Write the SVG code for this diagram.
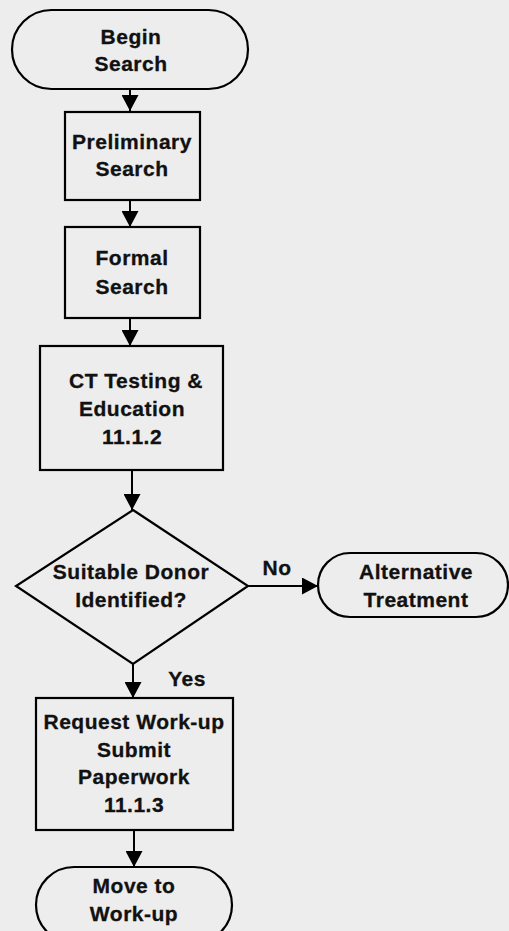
<svg xmlns="http://www.w3.org/2000/svg" width="509" height="931" viewBox="0 0 509 931">
  <style>
    .shape { fill: #ededed; stroke: #000; stroke-width: 2.2; }
    .lbl { font-family: "Liberation Sans", Arial, sans-serif; font-weight: bold; font-size: 21px; letter-spacing: 0.5px; fill: #111; stroke: #111; stroke-width: 0.3; text-anchor: middle; }
    .edge { stroke: #000; stroke-width: 2; fill: none; }
  </style>
  <defs>
    <marker id="arrow" viewBox="0 0 16 17" refX="16" refY="8.5" markerWidth="17" markerHeight="17" markerUnits="userSpaceOnUse" orient="auto">
      <path d="M0,0 L16,8.5 L0,17 Z" fill="#000"/>
    </marker>
  </defs>

  <rect width="509" height="931" fill="#ededed"/>

  <g id="connectors">
    <line class="edge" x1="130" y1="89" x2="130" y2="111" marker-end="url(#arrow)"/>
    <line class="edge" x1="130" y1="200" x2="130" y2="227" marker-end="url(#arrow)"/>
    <line class="edge" x1="130" y1="318" x2="130" y2="346" marker-end="url(#arrow)"/>
    <line class="edge" x1="132" y1="470" x2="132" y2="510" marker-end="url(#arrow)"/>
    <line class="edge" x1="248" y1="586" x2="318" y2="586" marker-end="url(#arrow)"/>
    <line class="edge" x1="133" y1="664" x2="133" y2="698" marker-end="url(#arrow)"/>
    <line class="edge" x1="134" y1="830" x2="134" y2="867" marker-end="url(#arrow)"/>
    <text class="lbl" x="277" y="575">No</text>
    <text class="lbl" x="187" y="686">Yes</text>
  </g>

  <g id="begin-search">
    <rect class="shape" x="12" y="10" width="236" height="79" rx="39.5"/>
    <text class="lbl" x="131" y="44">Begin</text>
    <text class="lbl" x="131" y="71">Search</text>
  </g>

  <g id="preliminary-search">
    <rect class="shape" x="65" y="112" width="135" height="88"/>
    <text class="lbl" x="132" y="149">Preliminary</text>
    <text class="lbl" x="132" y="176">Search</text>
  </g>

  <g id="formal-search">
    <rect class="shape" x="65" y="227" width="135" height="91"/>
    <text class="lbl" x="132" y="265">Formal</text>
    <text class="lbl" x="132" y="294">Search</text>
  </g>

  <g id="ct-testing">
    <rect class="shape" x="40" y="346" width="183" height="124"/>
    <text class="lbl" x="136" y="388">CT Testing &amp;</text>
    <text class="lbl" x="132" y="416">Education</text>
    <text class="lbl" x="132" y="444">11.1.2</text>
  </g>

  <g id="suitable-donor">
    <polygon class="shape" points="133,510 248,586 133,664 16,586"/>
    <text class="lbl" x="131" y="579">Suitable Donor</text>
    <text class="lbl" x="131" y="607">Identified?</text>
  </g>

  <g id="alternative-treatment">
    <rect class="shape" x="318" y="553" width="190" height="64" rx="32"/>
    <text class="lbl" x="416" y="579">Alternative</text>
    <text class="lbl" x="416" y="607">Treatment</text>
  </g>

  <g id="request-work-up">
    <rect class="shape" x="36" y="698" width="197" height="132"/>
    <text class="lbl" x="134" y="729">Request Work-up</text>
    <text class="lbl" x="134" y="757">Submit</text>
    <text class="lbl" x="134" y="784">Paperwork</text>
    <text class="lbl" x="134" y="812">11.1.3</text>
  </g>

  <g id="move-to-work-up">
    <rect class="shape" x="36" y="867" width="196" height="76" rx="38"/>
    <text class="lbl" x="134" y="893">Move to</text>
    <text class="lbl" x="134" y="921">Work-up</text>
  </g>
</svg>
